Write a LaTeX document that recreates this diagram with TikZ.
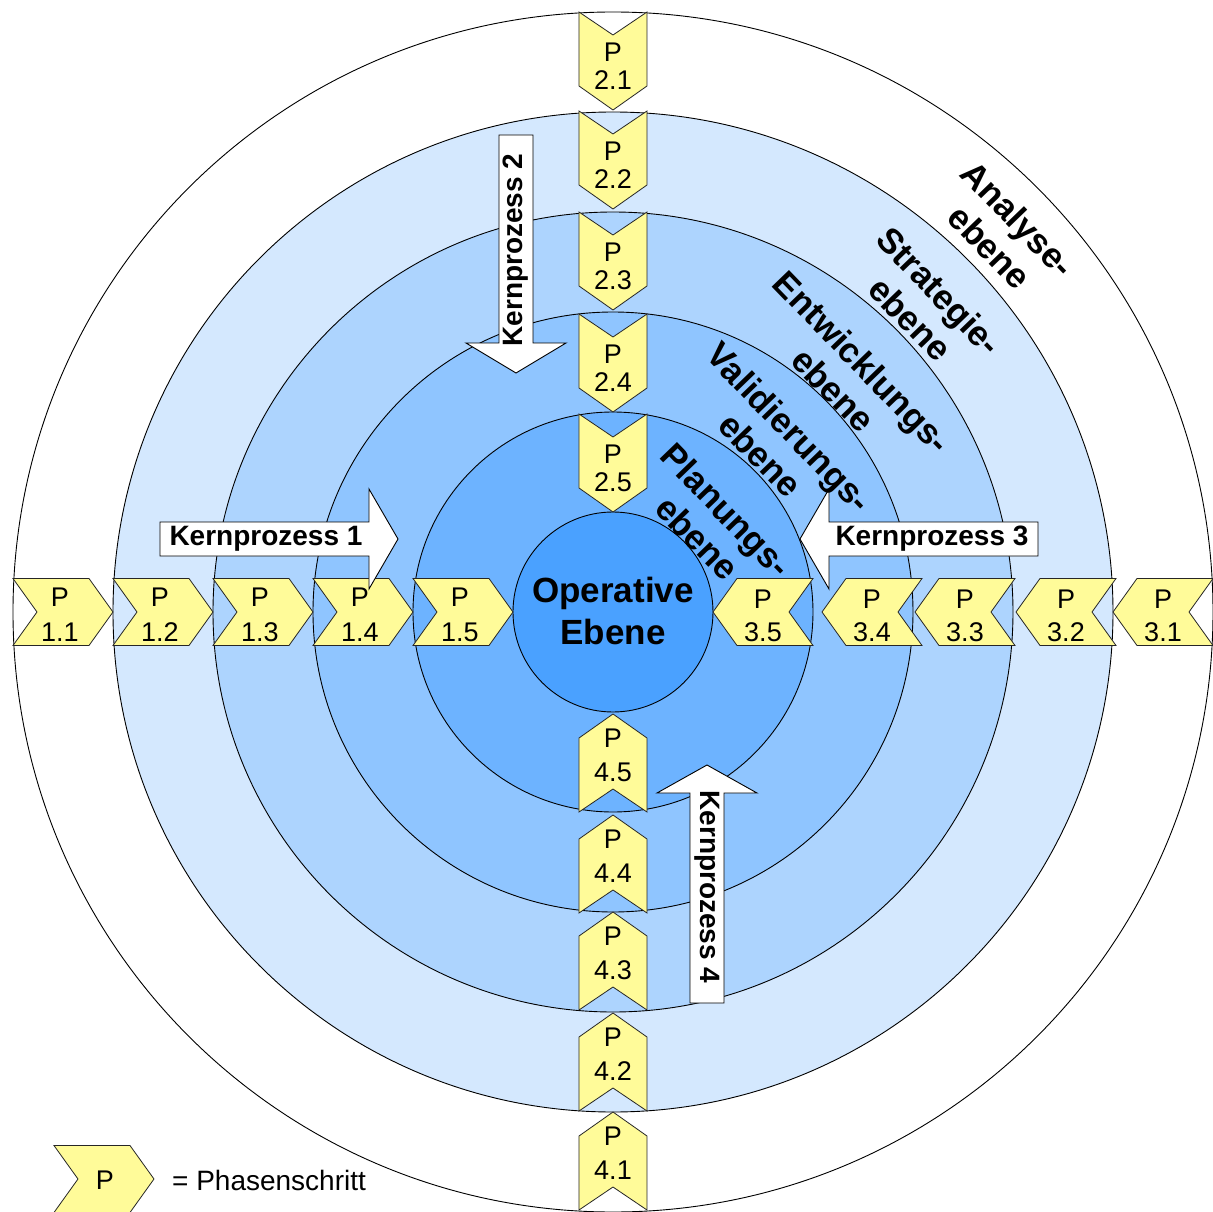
\documentclass[tikz,border=0pt]{standalone}
\usepackage{fontspec}
\setmainfont{Liberation Sans}
\definecolor{ringB}{HTML}{D4E8FE}
\definecolor{ringC}{HTML}{ADD4FE}
\definecolor{ringD}{HTML}{8FC5FF}
\definecolor{ringE}{HTML}{6DB3FF}
\definecolor{ringF}{HTML}{4AA1FF}
\definecolor{chevfill}{HTML}{FFFB99}
\begin{document}
\begin{tikzpicture}[x=1pt,y=1pt,
  ring/.style={draw=black, line width=0.9pt},
  chevron/.style={draw=black!85, fill=chevfill, line width=0.8pt, line join=miter},
  ptext/.style={font=\fontsize{27}{30}\selectfont, inner sep=0pt},
  kp/.style={draw=black, fill=white, line width=0.9pt, line join=miter},
  kptext/.style={font=\fontsize{28}{30}\selectfont\bfseries, inner sep=0pt},
  level/.style={font=\fontsize{35}{40}\selectfont\bfseries, align=center, inner sep=0pt, rotate=-46},
  % phase step pointing right
  pics/phaseR/.style={code={
    \draw[chevron] (-50,33.5) -- (26,33.5) -- (50,0) -- (26,-33.5) -- (-50,-33.5) -- (-26,0) -- cycle;
    \node[ptext] (-p) at (-3,15) {P};
    \node[ptext] (-n) at (-3,-20) {#1};
  }},
  % phase step pointing left
  pics/phaseL/.style={code={
    \draw[chevron] (50,33.5) -- (-26,33.5) -- (-50,0) -- (-26,-33.5) -- (50,-33.5) -- (26,0) -- cycle;
    \node[ptext] (-p) at (0,13) {P};
    \node[ptext] (-n) at (0,-20) {#1};
  }},
  % phase step pointing down
  pics/phaseD/.style={code={
    \draw[chevron] (-34,49) -- (0,26) -- (34,49) -- (34,-25) -- (0,-49) -- (-34,-25) -- cycle;
    \node[ptext] (-p) at (0,9) {P};
    \node[ptext] (-n) at (0,-19) {#1};
  }},
  % phase step pointing up
  pics/phaseU/.style={code={
    \draw[chevron] (-34,-49) -- (0,-26) -- (34,-49) -- (34,25) -- (0,49) -- (-34,25) -- cycle;
    \node[ptext] (-p) at (0,25) {P};
    \node[ptext] (-n) at (0,-9) {#1};
  }},
]
\useasboundingbox (-613,-599) rectangle (600,612);

% concentric levels
\draw[ring, fill=white] (0,0) circle (600);
\draw[ring, fill=ringB] (0,0) circle (500);
\draw[ring, fill=ringC] (0,0) circle (400);
\draw[ring, fill=ringD] (0,0) circle (300);
\draw[ring, fill=ringE] (0,0) circle (200);
\draw[ring, fill=ringF] (0,0) circle (100);

% core process 1 (left, pointing right)
\pic (p11) at (-550,0) {phaseR=1.1};
\pic (p12) at (-450,0) {phaseR=1.2};
\pic (p13) at (-350,0) {phaseR=1.3};
\pic (p14) at (-250,0) {phaseR=1.4};
\pic (p15) at (-150,0) {phaseR=1.5};

% core process 2 (top, pointing down)
\pic (p21) at (0,551) {phaseD=2.1};
\pic (p22) at (0,452) {phaseD=2.2};
\pic (p23) at (0,351) {phaseD=2.3};
\pic (p24) at (0,249) {phaseD=2.4};
\pic (p25) at (0,149) {phaseD=2.5};

% core process 3 (right, pointing left)
\pic (p31) at (550,0) {phaseL=3.1};
\pic (p32) at (453,0) {phaseL=3.2};
\pic (p33) at (352,0) {phaseL=3.3};
\pic (p34) at (259,0) {phaseL=3.4};
\pic (p35) at (150,0) {phaseL=3.5};

% core process 4 (bottom, pointing up)
\pic (p41) at (0,-549) {phaseU=4.1};
\pic (p42) at (0,-450) {phaseU=4.2};
\pic (p43) at (0,-349) {phaseU=4.3};
\pic (p44) at (0,-252) {phaseU=4.4};
\pic (p45) at (0,-151) {phaseU=4.5};

% block arrows of the core processes
\draw[kp] (-453,56) -- (-453,90) -- (-244,90) -- (-244,123) -- (-215,73) -- (-244,23) -- (-244,56) -- cycle;
\node[kptext] (kp1) at (-347,73) {Kernprozess 1};

\draw[kp] (-114,477) -- (-80,477) -- (-80,269) -- (-47,269) -- (-97,239) -- (-147,269) -- (-114,269) -- cycle;
\node[kptext, rotate=90] (kp2) at (-97,362) {Kernprozess 2};

\draw[kp] (425,56) -- (425,90) -- (216,90) -- (216,123) -- (187,73) -- (216,23) -- (216,56) -- cycle;
\node[kptext] (kp3) at (319,73) {Kernprozess 3};

\draw[kp] (77,-391) -- (111,-391) -- (111,-181) -- (144,-181) -- (94,-153) -- (44,-181) -- (77,-181) -- cycle;
\node[kptext, rotate=-90] (kp4) at (94,-275) {Kernprozess 4};

% level names
\node[level] (lvA) at (391,379) {Analyse-\\ebene};
\node[level] (lvS) at (312,307) {Strategie-\\ebene};
\node[level] (lvE) at (235,236) {Entwicklungs-\\ebene};
\node[level] (lvV) at (162,171) {Validierungs-\\ebene};
\node[level] (lvP) at (99,88) {Planungs-\\ebene};

\node[font=\fontsize{35}{42}\selectfont\bfseries, align=center, inner sep=0pt] (op) at (0,1) {Operative\\Ebene};

% legend
\draw[chevron] (-559,-533.5) -- (-483,-533.5) -- (-459,-567) -- (-483,-600.5) -- (-559,-600.5) -- (-535,-567) -- cycle;
\node[ptext] (legP) at (-508,-568) {P};
\node[font=\fontsize{28}{30}\selectfont, inner sep=0pt, anchor=west] (legT) at (-441,-568) {= Phasenschritt};
\end{tikzpicture}
\end{document}
